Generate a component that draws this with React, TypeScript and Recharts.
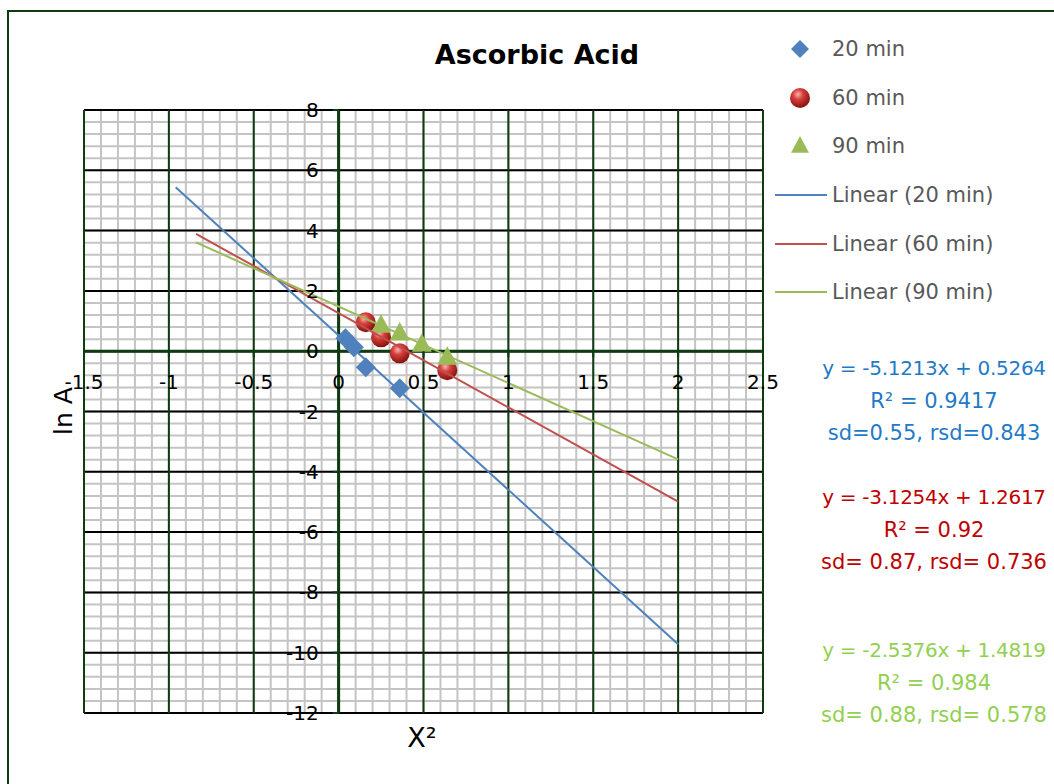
import React from "react";
import {
  ScatterChart,
  Scatter,
  XAxis,
  YAxis,
  ReferenceLine,
  Legend,
} from "recharts";

// measured points (x = X², y = ln A)
const points20 = [
  { x: 0.04, y: 0.43 },
  { x: 0.09, y: 0.13 },
  { x: 0.16, y: -0.53 },
  { x: 0.36, y: -1.23 },
];
const points60 = [
  { x: 0.16, y: 0.96 },
  { x: 0.25, y: 0.46 },
  { x: 0.36, y: -0.07 },
  { x: 0.64, y: -0.63 },
];
const points90 = [
  { x: 0.25, y: 0.86 },
  { x: 0.36, y: 0.6 },
  { x: 0.49, y: 0.23 },
  { x: 0.64, y: -0.2 },
];

// trendline end points as drawn
const trend20 = [
  { x: -0.96, y: 5.44 },
  { x: 2, y: -9.72 },
];
const trend60 = [
  { x: -0.84, y: 3.89 },
  { x: 2, y: -4.99 },
];
const trend90 = [
  { x: -0.84, y: 3.61 },
  { x: 2, y: -3.59 },
];

const xTicks = [-1.5, -1, -0.5, 0, 0.5, 1, 1.5, 2, 2.5];
const yTicks = [-12, -10, -8, -6, -4, -2, 0, 2, 4, 6, 8];
const xMinor = Array.from({ length: 41 }, (_, i) => +(-1.5 + i * 0.1).toFixed(1));
const yMinor = Array.from({ length: 51 }, (_, i) => +(-12 + i * 0.4).toFixed(1));

const eq20 = ["y = -5.1213x + 0.5264", "R² = 0.9417", "sd=0.55, rsd=0.843"];
const eq60 = ["y = -3.1254x + 1.2617", "R² = 0.92", "sd= 0.87, rsd= 0.736"];
const eq90 = ["y = -2.5376x + 1.4819", "R² = 0.984", "sd= 0.88, rsd= 0.578"];

const FONT = "'DejaVu Sans', sans-serif";
const BLUE = "#4F81BD";
const RED = "#C0504D";
const GREEN = "#9BBB59";
const DARK = "#0E3B10";

const W = 1054;
const H = 784;
const PLOT = { left: 84, top: 110, right: 763, bottom: 713 };
const ZERO_X = PLOT.left + (1.5 / 4) * (PLOT.right - PLOT.left);
const ZERO_Y = PLOT.top + (8 / 20) * (PLOT.bottom - PLOT.top);

const Diamond = ({ cx, cy, r = 10 }: any) => (
  <polygon
    points={`${cx},${cy - r} ${cx + r},${cy} ${cx},${cy + r} ${cx - r},${cy}`}
    fill={BLUE}
  />
);

const Sphere = ({ cx, cy, r = 10 }: any) => (
  <g>
    <defs>
      <radialGradient id="sphereGrad" cx="40%" cy="32%" r="65%">
        <stop offset="0%" stopColor="#F7B3B0" />
        <stop offset="40%" stopColor="#D6403B" />
        <stop offset="100%" stopColor="#8A1512" />
      </radialGradient>
    </defs>
    <circle cx={cx} cy={cy} r={r} fill="url(#sphereGrad)" />
  </g>
);

const Triangle = ({ cx, cy, r = 10 }: any) => (
  <polygon
    points={`${cx},${cy - r - 1} ${cx + r},${cy + r * 0.75} ${cx - r},${cy + r * 0.75}`}
    fill={GREEN}
  />
);

const legendIcons: Record<string, (y: number) => React.ReactNode> = {
  "20 min": (y) => <Diamond cx={30} cy={y} r={9} />,
  "60 min": (y) => <Sphere cx={30} cy={y} r={10} />,
  "90 min": (y) => <Triangle cx={30} cy={y} r={9} />,
  "Linear (20 min)": (y) => <line x1={5} x2={57} y1={y} y2={y} stroke={BLUE} strokeWidth={2} />,
  "Linear (60 min)": (y) => <line x1={5} x2={57} y1={y} y2={y} stroke={RED} strokeWidth={2} />,
  "Linear (90 min)": (y) => <line x1={5} x2={57} y1={y} y2={y} stroke={GREEN} strokeWidth={2} />,
};

const renderLegend = ({ payload }: any) => (
  <div>
    {(payload || []).map((entry: any) => (
      <div key={entry.value} style={{ display: "flex", alignItems: "center", height: 48.6 }}>
        <svg width={62} height={30}>
          {legendIcons[entry.value]?.(15)}
        </svg>
        <span style={{ fontFamily: FONT, fontSize: 21, color: "#595959", whiteSpace: "nowrap" }}>
          {entry.value}
        </span>
      </div>
    ))}
  </div>
);

const XTick = ({ x, payload }: any) => (
  <g>
    <line x1={x} x2={x} y1={ZERO_Y} y2={ZERO_Y + 6} stroke={DARK} strokeWidth={2} />
    <text x={x} y={ZERO_Y + 38} textAnchor="middle" fontFamily={FONT} fontSize={20} fill="#000">
      {payload.value}
    </text>
  </g>
);

const YTick = ({ y, payload }: any) => (
  <g>
    <line x1={ZERO_X - 6} x2={ZERO_X} y1={y} y2={y} stroke={DARK} strokeWidth={2} />
    <text x={ZERO_X - 20} y={y + 7} textAnchor="end" fontFamily={FONT} fontSize={20} fill="#000">
      {payload.value}
    </text>
  </g>
);

const EqBlock = ({ lines, color, top }: { lines: string[]; color: string; top: number }) => (
  <div
    style={{
      position: "absolute",
      left: 797,
      top,
      width: 274,
      textAlign: "center",
      fontFamily: FONT,
      fontSize: 21,
      lineHeight: "32.5px",
      color,
      whiteSpace: "nowrap",
    }}
  >
    {lines.map((l, i) => (
      <div
        key={l}
        style={{
          display: "flex",
          justifyContent: "center",
          fontSize: i === 0 ? 20 : 21,
          letterSpacing: i === 0 ? "-0.3px" : undefined,
        }}
      >
        {l}
      </div>
    ))}
  </div>
);

export default function App() {
  return (
    <div
      style={{
        position: "fixed",
        left: 0,
        top: 0,
        width: W,
        height: H,
        overflow: "hidden",
        background: "#fff",
      }}
    >
      <div
        style={{
          position: "absolute",
          left: 7,
          top: 10,
          width: W,
          height: H,
          borderLeft: `2px solid ${DARK}`,
          borderTop: `2px solid ${DARK}`,
        }}
      />
      <div
        style={{
          position: "absolute",
          left: 387,
          top: 39,
          width: 300,
          textAlign: "center",
          fontFamily: FONT,
          fontWeight: "bold",
          fontSize: 27,
          color: "#000",
        }}
      >
        Ascorbic Acid
      </div>
      <div style={{ position: "absolute", left: 0, top: 0 }}>
        <ScatterChart
          width={W}
          height={H}
          margin={{ top: PLOT.top, left: PLOT.left - 1, right: W - PLOT.right, bottom: H - PLOT.bottom - 1 }}
        >
          <XAxis
            type="number"
            dataKey="x"
            domain={[-1.5, 2.5]}
            ticks={xTicks}
            interval={0}
            allowDataOverflow
            height={1}
            axisLine={false}
            tickLine={false}
            tick={<XTick />}
          />
          <YAxis
            type="number"
            dataKey="y"
            domain={[-12, 8]}
            ticks={yTicks}
            interval={0}
            allowDataOverflow
            width={1}
            axisLine={false}
            tickLine={false}
            tick={<YTick />}
          />
          {xMinor.map((v) => (
            <ReferenceLine key={`xm${v}`} x={v} stroke="#C4C4C4" strokeWidth={2} zIndex={-100} />
          ))}
          {yMinor.map((v) => (
            <ReferenceLine key={`ym${v}`} y={v} stroke="#C4C4C4" strokeWidth={2} zIndex={-100} />
          ))}
          {yTicks.map((v) => (
            <ReferenceLine key={`yM${v}`} y={v} stroke="#000" strokeWidth={2} zIndex={-90} />
          ))}
          {xTicks.map((v) => (
            <ReferenceLine key={`xM${v}`} x={v} stroke={DARK} strokeWidth={2} zIndex={-90} />
          ))}
          <ReferenceLine y={0} stroke={DARK} strokeWidth={3} zIndex={-80} />
          <ReferenceLine x={0} stroke={DARK} strokeWidth={3} zIndex={-80} />
          <Legend
            layout="vertical"
            align="center"
            verticalAlign="middle"
            content={renderLegend}
            wrapperStyle={{ left: 770, top: 25, width: 284, height: 300 }}
          />
          <Scatter name="20 min" data={points20} fill={BLUE} shape={(p: any) => <Diamond {...p} />} isAnimationActive={false} />
          <Scatter name="60 min" data={points60} fill={RED} shape={(p: any) => <Sphere {...p} />} isAnimationActive={false} />
          <Scatter name="90 min" data={points90} fill={GREEN} shape={(p: any) => <Triangle {...p} />} isAnimationActive={false} />
          <Scatter
            name="Linear (20 min)"
            data={trend20}
            fill={BLUE}
            line={{ stroke: BLUE, strokeWidth: 2 }}
            shape={() => <g />}
            isAnimationActive={false}
          />
          <Scatter
            name="Linear (60 min)"
            data={trend60}
            fill={RED}
            line={{ stroke: RED, strokeWidth: 2 }}
            shape={() => <g />}
            isAnimationActive={false}
          />
          <Scatter
            name="Linear (90 min)"
            data={trend90}
            fill={GREEN}
            line={{ stroke: GREEN, strokeWidth: 2 }}
            shape={() => <g />}
            isAnimationActive={false}
          />
        </ScatterChart>
      </div>
      <div
        style={{
          position: "absolute",
          left: 33,
          top: 396,
          width: 60,
          height: 30,
          transform: "rotate(-90deg)",
          transformOrigin: "center",
          fontFamily: FONT,
          fontSize: 25,
          color: "#000",
          whiteSpace: "nowrap",
          display: "flex",
          justifyContent: "center",
          alignItems: "center",
        }}
      >
        ln A
      </div>
      <div
        style={{
          position: "absolute",
          left: 372,
          top: 722,
          width: 100,
          textAlign: "center",
          fontFamily: FONT,
          fontSize: 27,
          color: "#000",
        }}
      >
        X²
      </div>
      <EqBlock lines={eq20} color="#1F7AC8" top={352} />
      <EqBlock lines={eq60} color="#C00000" top={481} />
      <EqBlock lines={eq90} color="#92D050" top={634} />
    </div>
  );
}
